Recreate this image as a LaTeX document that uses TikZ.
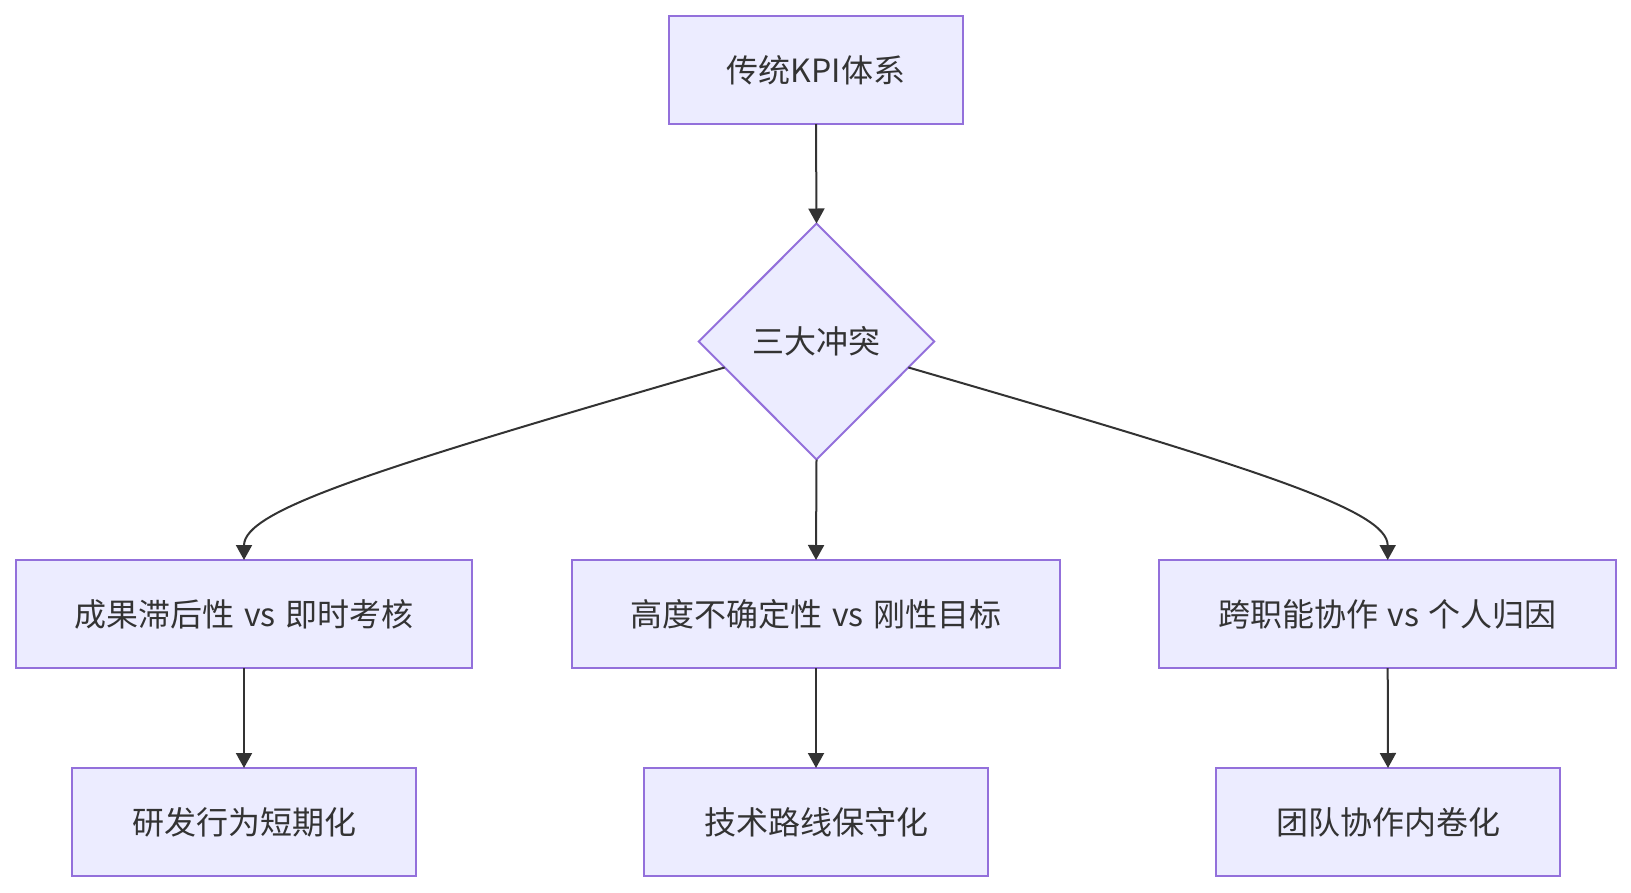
\documentclass[tikz,border=0pt]{standalone}
\usepackage{fontspec}
\setmainfont{Noto Sans CJK SC}
\usetikzlibrary{shapes.geometric,arrows.meta,calc}
\definecolor{nodefill}{HTML}{ECECFF}
\definecolor{nodeline}{HTML}{9370DB}
\definecolor{edgecol}{HTML}{333333}
\newcommand{\vsword}{\hspace{0.29em}vs\hspace{0.29em}}
\begin{document}
\begin{tikzpicture}[x=1pt,y=-1pt,
  box/.style={draw=nodeline, fill=nodefill, line width=2pt, minimum height=108pt,
    inner sep=0pt, outer sep=0pt, font=\fontsize{32}{36}\selectfont, text=edgecol},
  choice/.style={diamond, draw=nodeline, fill=nodefill, line width=2pt,
    minimum width=235.5pt, minimum height=236pt, inner sep=0pt, outer sep=0pt,
    font=\fontsize{32}{36}\selectfont, text=edgecol},
  edge/.style={draw=edgecol, line width=2pt, -{Triangle[length=15pt,width=16pt]}}]
\useasboundingbox (0,0) rectangle (1631,892);
\node[box, minimum width=294pt] (kpi) at (816,70) {传统KPI体系};
\node[choice] (c) at (816.5,341.5) {三大冲突};
\node[box, minimum width=456pt] (a1) at (244,614) {成果滞后性\vsword 即时考核};
\node[box, minimum width=488pt] (a2) at (816,614) {高度不确定性\vsword 刚性目标};
\node[box, minimum width=457pt] (a3) at (1387.7,614) {跨职能协作\vsword 个人归因};
\node[box, minimum width=344pt] (b1) at (244,822) {研发行为短期化};
\node[box, minimum width=344pt] (b2) at (816,822) {技术路线保守化};
\node[box, minimum width=344pt] (b3) at (1388,822) {团队协作内卷化};
\coordinate (cl) at ($(c.west)!0.22!(c.south)$);
\coordinate (cr) at ($(c.east)!0.22!(c.south)$);
\draw[edge] (kpi.south) -- (c.north);
\draw[edge] (c.south) -- (a2.north);
\draw[edge] (cl) .. controls ($(cl)+(-350,101.5)$) and ($(a1.north)+(0,-50)$) .. (a1.north);
\draw[edge] (cr) .. controls ($(cr)+(350,101.5)$) and ($(a3.north)+(0,-50)$) .. (a3.north);
\draw[edge] (a1.south) -- (b1.north);
\draw[edge] (a2.south) -- (b2.north);
\draw[edge] (a3.south) -- (b3.north);
\end{tikzpicture}
\end{document}
